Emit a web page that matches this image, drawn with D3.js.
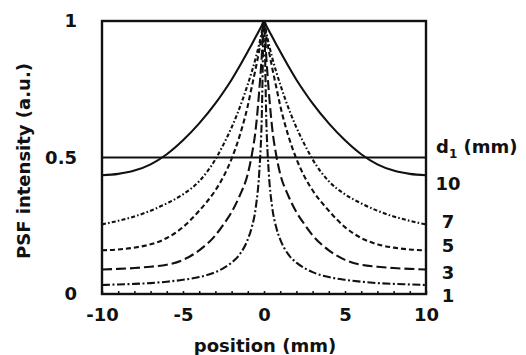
<!DOCTYPE html>
<html>
<head>
<meta charset="utf-8">
<script src="https://cdn.jsdelivr.net/npm/d3@7/dist/d3.min.js"></script>
<style>
  html, body { margin: 0; padding: 0; background: #fff; }
  svg { display: block; }
  text { font-family: "DejaVu Sans", sans-serif; font-weight: bold; fill: #111; }
</style>
</head>
<body>
<svg id="chart" width="526" height="355"></svg>
<script>
// ---- data ----
const positions = [-10,-9,-8,-7,-6,-5,-4,-3,-2.5,-2,-1.5,-1,-0.75,-0.5,-0.3,-0.15,0,0.15,0.3,0.5,0.75,1,1.5,2,2.5,3,4,5,6,7,8,9,10];
const d1Labels = ["10", "7", "5", "3", "1"];
const psf10 = [0.435,0.44,0.452,0.475,0.512,0.563,0.625,0.698,0.74,0.785,0.835,0.888,0.915,0.943,0.965,0.982,1,0.982,0.965,0.943,0.915,0.888,0.835,0.785,0.74,0.698,0.625,0.563,0.512,0.475,0.452,0.44,0.435];
const psf7  = [0.255,0.268,0.284,0.305,0.332,0.365,0.413,0.493,0.548,0.61,0.683,0.768,0.815,0.867,0.915,0.955,1,0.955,0.915,0.867,0.815,0.768,0.683,0.61,0.548,0.493,0.413,0.365,0.332,0.305,0.284,0.268,0.255];
const psf5  = [0.16,0.163,0.17,0.182,0.205,0.245,0.305,0.38,0.43,0.495,0.58,0.69,0.76,0.83,0.89,0.94,1,0.94,0.89,0.83,0.76,0.69,0.58,0.495,0.43,0.38,0.305,0.245,0.205,0.182,0.17,0.163,0.16];
const psf3  = [0.09,0.092,0.095,0.1,0.107,0.125,0.16,0.215,0.255,0.3,0.36,0.44,0.51,0.61,0.74,0.86,1,0.86,0.74,0.61,0.51,0.44,0.36,0.3,0.255,0.215,0.16,0.125,0.107,0.1,0.095,0.092,0.09];
const psf1  = [0.033,0.035,0.037,0.04,0.045,0.052,0.062,0.08,0.095,0.115,0.145,0.2,0.245,0.32,0.44,0.62,1,0.62,0.44,0.32,0.245,0.2,0.145,0.115,0.095,0.08,0.062,0.052,0.045,0.04,0.037,0.035,0.033];
const halfLevel = 0.5;
const xMajorTicks = [-10,-5,0,5,10];
const xMinorTicks = [-10,-9,-8,-7,-6,-5,-4,-3,-2,-1,0,1,2,3,4,5,6,7,8,9,10];
const yTicks = [0, 0.5, 1];
const yTickLabels = ["0", "0.5", "1"];

(function () {
  // ---- layout ----
  const svg = d3.select("#chart");
  const pLeft = 102, pRight = 426, pTop = 21, pBottom = 294;
  const x = d3.scaleLinear().domain([-10, 10]).range([pLeft, pRight]);
  const y = d3.scaleLinear().domain([0, 1]).range([pBottom, pTop]);

  svg.append("defs").append("clipPath").attr("id", "clip")
    .append("rect").attr("x", pLeft).attr("y", pTop - 2)
    .attr("width", pRight - pLeft).attr("height", pBottom - pTop + 2);

  const series = [
    { values: psf10, dash: null },
    { values: psf7,  dash: "4,2.2,1.6,2.2" },
    { values: psf5,  dash: "5,3" },
    { values: psf3,  dash: "10,4" },
    { values: psf1,  dash: "8,2.5,2,2.5" }
  ];

  const line = d3.line()
    .x((d, i) => x(positions[i]))
    .y(d => y(d))
    .curve(d3.curveMonotoneX);

  const g = svg.append("g").attr("clip-path", "url(#clip)");
  series.forEach(s => {
    g.append("path")
      .datum(s.values)
      .attr("d", line)
      .attr("fill", "none")
      .attr("stroke", "#111")
      .attr("stroke-width", 2.1)
      .attr("stroke-dasharray", s.dash);
  });

  // half-maximum line
  svg.append("line")
    .attr("x1", x(-10)).attr("x2", x(10))
    .attr("y1", y(halfLevel)).attr("y2", y(halfLevel))
    .attr("stroke", "#111").attr("stroke-width", 2);

  // frame
  svg.append("rect")
    .attr("x", pLeft).attr("y", pTop)
    .attr("width", pRight - pLeft).attr("height", pBottom - pTop)
    .attr("fill", "none").attr("stroke", "#111").attr("stroke-width", 2.4);

  // minor ticks (inward)
  const minor = svg.append("g").attr("transform", `translate(0,${pBottom})`)
    .call(d3.axisBottom(x).tickValues(xMinorTicks).tickSize(-3).tickFormat(""));
  minor.select(".domain").remove();
  minor.selectAll("line").attr("stroke", "#111").attr("stroke-width", 1.5);

  // x tick labels
  const xa = svg.append("g").attr("transform", `translate(0,${pBottom})`)
    .call(d3.axisBottom(x).tickValues(xMajorTicks).tickSize(0).tickPadding(14)
      .tickFormat(d => (d < 0 ? "-" + Math.abs(d) : String(d))));
  xa.select(".domain").remove();
  xa.selectAll("text").attr("font-size", 18).attr("fill", "#111")
    .style("font-family", "DejaVu Sans, sans-serif").style("font-weight", "bold");

  // y tick labels
  const ya = svg.append("g").attr("transform", `translate(${pLeft},0)`)
    .call(d3.axisLeft(y).tickValues(yTicks).tickSize(0).tickPadding(25)
      .tickFormat((d, i) => yTickLabels[i]));
  ya.select(".domain").remove();
  ya.selectAll("text").attr("font-size", 18).attr("fill", "#111")
    .style("font-family", "DejaVu Sans, sans-serif").style("font-weight", "bold");

  // axis titles
  svg.append("text")
    .attr("x", 265).attr("y", 352)
    .attr("text-anchor", "middle").attr("font-size", 18)
    .text("position (mm)");

  svg.append("text")
    .attr("transform", "translate(30,161) rotate(-90)")
    .attr("text-anchor", "middle").attr("font-size", 18)
    .text("PSF intensity (a.u.)");

  // right-hand legend labels
  const dLabel = svg.append("text").attr("x", 436).attr("y", 153).attr("font-size", 18);
  dLabel.append("tspan").text("d");
  dLabel.append("tspan").attr("font-size", 12).attr("dy", 5).text("1");
  dLabel.append("tspan").attr("dy", -5).text(" (mm)");

  const labelY = [190, 228, 252, 279, 302];
  d1Labels.forEach((t, i) => {
    svg.append("text")
      .attr("x", 448).attr("y", labelY[i])
      .attr("text-anchor", "middle").attr("font-size", 18)
      .text(t);
  });
})();
</script>
</body>
</html>
